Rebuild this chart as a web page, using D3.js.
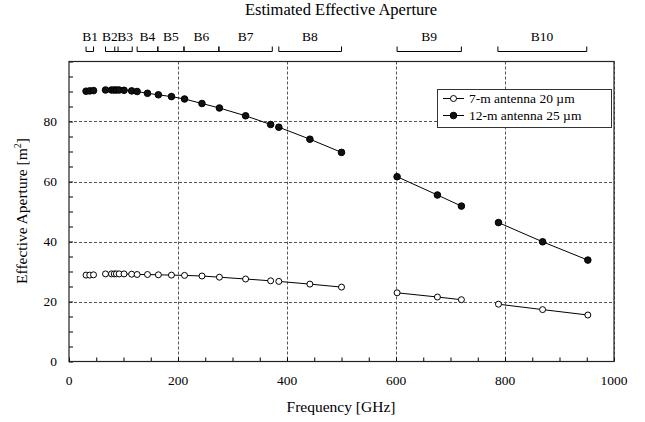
<!DOCTYPE html>
<html><head><meta charset="utf-8">
<script src="https://cdn.jsdelivr.net/npm/d3@7"></script>
<style>body{margin:0;background:#fff;} svg{display:block;} text{font-family:"Liberation Serif","Times New Roman",serif;}</style>
</head><body>
<svg id="c" width="645" height="422" font-family="Liberation Serif, Times New Roman, serif"></svg>
<script>
const title = "Estimated Effective Aperture";
const xLabel = "Frequency [GHz]";
const freqs = [31.3, 38, 45, 67, 78, 83, 87, 92, 101, 115, 125, 144, 164, 188, 212, 244, 276, 324, 370, 385, 442, 500, 602, 676, 720, 788, 869, 952];
const ant7 = [28.8, 28.8, 28.9, 29.2, 29.2, 29.2, 29.2, 29.2, 29.2, 29.1, 29.0, 29.0, 28.9, 28.8, 28.7, 28.5, 28.1, 27.5, 26.9, 26.7, 25.8, 24.8, 22.9, 21.5, 20.6, 19.1, 17.3, 15.5];
const ant12 = [90.1, 90.2, 90.3, 90.5, 90.5, 90.5, 90.5, 90.5, 90.4, 90.2, 90.0, 89.4, 88.9, 88.3, 87.5, 86.0, 84.5, 81.9, 79.0, 78.1, 74.1, 69.7, 61.6, 55.5, 51.8, 46.3, 39.9, 33.8];
const segments = [[0, 2], [3, 18], [19, 21], [22, 24], [25, 27]];
const bandNames = ["B1", "B2", "B3", "B4", "B5", "B6", "B7", "B8", "B9", "B10"];
const bandLo = [31.3, 67, 84, 125, 163, 211, 275, 385, 602, 787];
const bandHi = [45, 90, 116, 163, 211, 275, 373, 500, 720, 950];
const bandLabelX = [39, 75, 103, 144, 187, 243, 324, 442, 661, 868];
const xTicks = [0, 200, 400, 600, 800, 1000];
const yTicks = [0, 20, 40, 60, 80];
const seriesNames = ["7-m antenna 20 \u00b5m", "12-m antenna 25 \u00b5m"];

const svg = d3.select("#c");
const L = 69, R = 614, T = 61.5, B = 361.5;
const x = d3.scaleLinear().domain([0, 1000]).range([L, R]);
const y = d3.scaleLinear().domain([0, 100]).range([B, T]);

// grid
const grid = svg.append("g").attr("stroke", "#555").attr("stroke-width", 1).attr("stroke-dasharray", "3,2");
grid.selectAll("line.v").data([200, 400, 600, 800, 1000]).join("line")
  .attr("x1", d => Math.round(x(d)) + 0.5).attr("x2", d => Math.round(x(d)) + 0.5).attr("y1", T).attr("y2", B);
grid.selectAll("line.h").data([20, 40, 60, 80]).join("line").attr("class", "h")
  .attr("x1", L).attr("x2", R).attr("y1", d => Math.round(y(d)) + 0.5).attr("y2", d => Math.round(y(d)) + 0.5);

// minor ticks (inward)
const xAxis = d3.axisBottom(x).tickValues(d3.range(0, 1001, 50)).tickSize(-4).tickFormat("");
svg.append("g").attr("transform", `translate(0,${B})`).call(xAxis)
  .call(g => { g.select(".domain").remove(); g.selectAll("line").attr("stroke", "#000"); });
const yAxis = d3.axisLeft(y).tickValues(d3.range(0, 101, 5)).tickSize(-4).tickFormat("");
svg.append("g").attr("transform", `translate(${L},0)`).call(yAxis)
  .call(g => { g.select(".domain").remove(); g.selectAll("line").attr("stroke", "#000"); });

// frame
svg.append("rect").attr("x", L).attr("y", T).attr("width", R - L).attr("height", B - T)
  .attr("fill", "none").attr("stroke", "#222").attr("stroke-width", 1.2);

// tick labels
svg.append("g").selectAll("text").data(xTicks).join("text")
  .attr("x", d => x(d)).attr("y", 385).attr("text-anchor", "middle").attr("font-size", 13.5).text(d => d);
svg.append("g").selectAll("text").data(yTicks).join("text")
  .attr("x", 57).attr("y", d => y(d) + 4.5).attr("text-anchor", "end").attr("font-size", 13.5).text(d => d);

// titles
svg.append("text").attr("x", 341).attr("y", 15).attr("text-anchor", "middle").attr("font-size", 16.5).text(title);
svg.append("text").attr("x", 341).attr("y", 412).attr("text-anchor", "middle").attr("font-size", 15.5).text(xLabel);
const yt = svg.append("text").attr("transform", "translate(27,211) rotate(-90)").attr("text-anchor", "middle").attr("font-size", 15.5);
yt.append("tspan").text("Effective Aperture [m");
yt.append("tspan").attr("font-size", 10).attr("dy", -6).text("2");
yt.append("tspan").attr("dy", 6).text("]");

// band brackets
const bands = bandNames.map((n, i) => ({n, lo: bandLo[i], hi: bandHi[i], lx: bandLabelX[i]}));
const bg = svg.append("g").attr("stroke", "#000").attr("stroke-width", 1).attr("fill", "none");
bg.selectAll("path").data(bands).join("path")
  .attr("d", d => `M${x(d.lo)},46.5V51.5H${x(d.hi)}V46.5`);
svg.append("g").selectAll("text").data(bands).join("text")
  .attr("x", d => x(d.lx)).attr("y", 41).attr("text-anchor", "middle").attr("font-size", 13.5).text(d => d.n);

// data lines
const line = d3.line().x(d => x(d[0])).y(d => y(d[1]));
const drawSeries = (vals, filled) => {
  const g = svg.append("g");
  segments.forEach(([a, b]) => {
    const pts = d3.range(a, b + 1).map(i => [freqs[i], vals[i]]);
    g.append("path").attr("d", line(pts)).attr("fill", "none").attr("stroke", "#000").attr("stroke-width", 1);
  });
  g.selectAll("circle").data(freqs.map((f, i) => [f, vals[i]])).join("circle")
    .attr("cx", d => x(d[0])).attr("cy", d => y(d[1])).attr("r", filled ? 3.3 : 3)
    .attr("fill", filled ? "#111" : "#fff").attr("stroke", "#000").attr("stroke-width", 1);
};
drawSeries(ant7, false);
drawSeries(ant12, true);

// legend
const lg = svg.append("g");
lg.append("rect").attr("x", 437.5).attr("y", 89.5).attr("width", 174).attr("height", 38)
  .attr("fill", "#fff").attr("stroke", "#333").attr("stroke-width", 1);
seriesNames.forEach((n, i) => {
  const yy = 98.5 + i * 17;
  lg.append("line").attr("x1", 443).attr("x2", 464).attr("y1", yy).attr("y2", yy).attr("stroke", "#000");
  lg.append("circle").attr("cx", 453.5).attr("cy", yy).attr("r", i ? 3.3 : 3)
    .attr("fill", i ? "#111" : "#fff").attr("stroke", "#000");
  lg.append("text").attr("x", 469).attr("y", yy + 4.5).attr("font-size", 13.5).text(n);
});
</script>
</body></html>
